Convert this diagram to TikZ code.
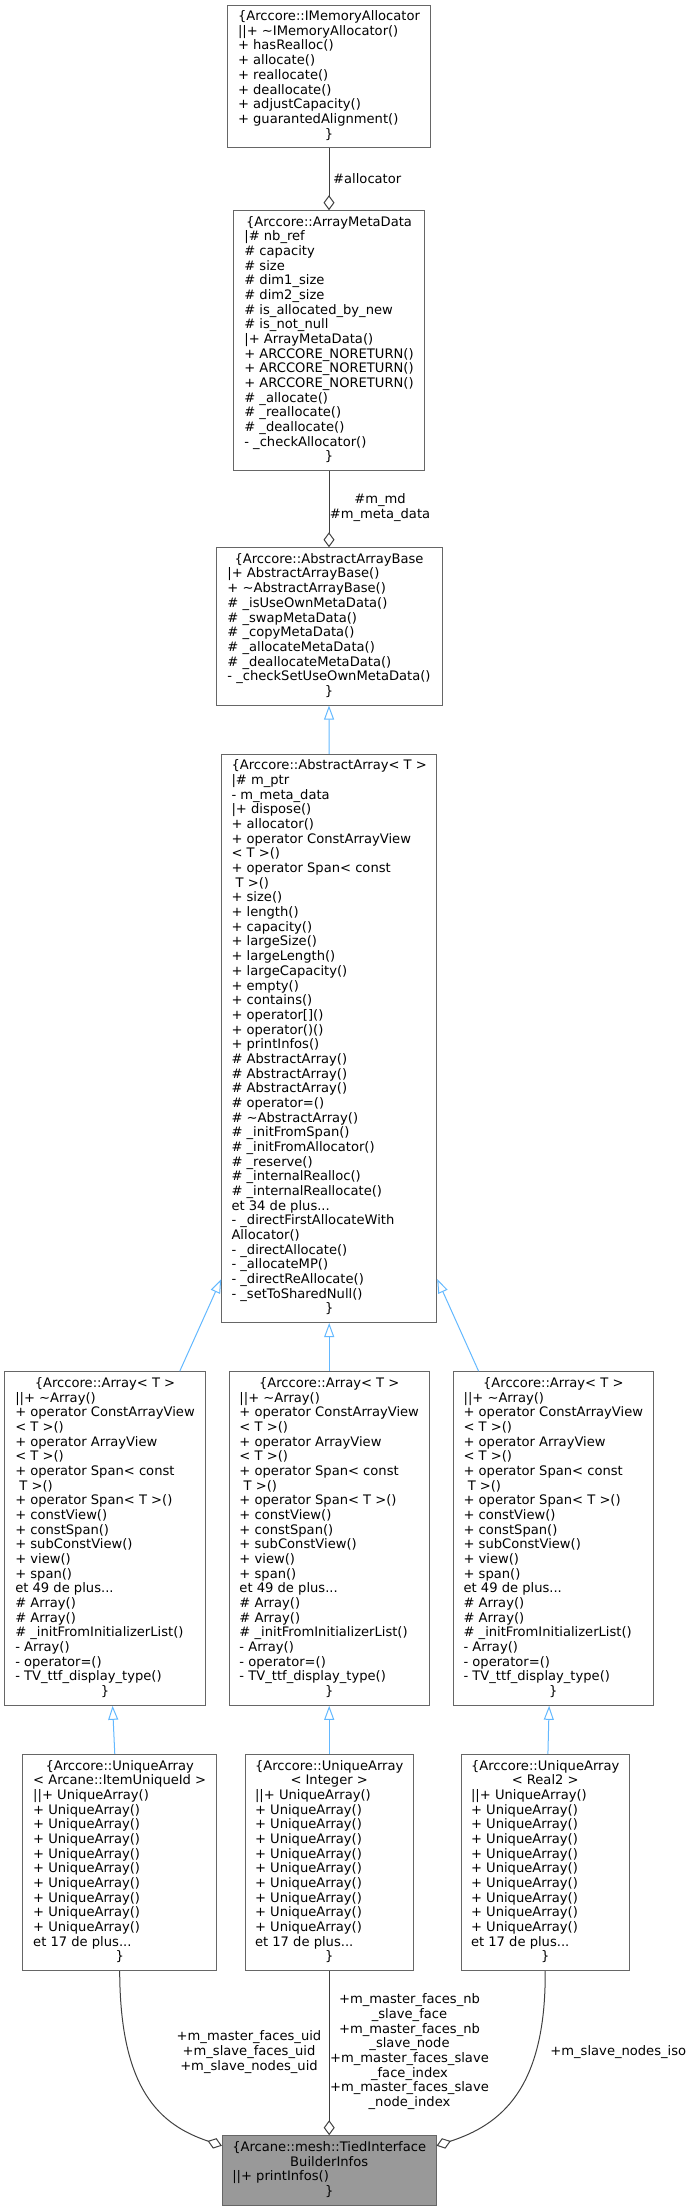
\documentclass[tikz,border=0pt]{standalone}
\usepackage{fontspec}
\setmainfont{DejaVu Sans}
\usetikzlibrary{arrows.meta}
\newcommand{\ctr}[1]{\multicolumn{1}{@{}c@{}}{#1}}

\begin{document}
\begin{tikzpicture}[x=1pt, y=-1pt, font=\fontsize{13.1}{14.67}\selectfont,
  cls/.style={draw=boxgray, line width=1pt, fill=white, inner sep=2pt},
  aggr/.style={draw=edgegray, line width=1pt, -{Diamond[open, length=15pt, width=11pt]}},
  inh/.style={draw=inhblue, line width=1pt, -{Triangle[open, length=14pt, width=10pt]}},
  lbl/.style={inner sep=0pt, align=center}]
\definecolor{boxgray}{HTML}{666666}
\definecolor{edgegray}{HTML}{404040}
\definecolor{inhblue}{HTML}{63B8FF}
\definecolor{maingray}{HTML}{999999}
\useasboundingbox (0,0) rectangle (693,2211);
% allocator and meta data
\node[cls, minimum width=203.4pt, minimum height=142.7pt] (imem) at (329,76.4) {\begin{tabular}{@{}l@{}}
\ctr{\{Arccore::IMemoryAllocator}\\
||+ \textasciitilde IMemoryAllocator()\\
+ hasRealloc()\\
+ allocate()\\
+ reallocate()\\
+ deallocate()\\
+ adjustCapacity()\\
+ guarantedAlignment()\\
\ctr{\}}
\end{tabular}};
\node[cls, minimum width=191pt, minimum height=260pt] (meta) at (329,340.7) {\begin{tabular}{@{}l@{}}
\ctr{\{Arccore::ArrayMetaData}\\
|\# nb\_ref\\
\# capacity\\
\# size\\
\# dim1\_size\\
\# dim2\_size\\
\# is\_allocated\_by\_new\\
\# is\_not\_null\\
|+ ArrayMetaData()\\
+ ARCCORE\_NORETURN()\\
+ ARCCORE\_NORETURN()\\
+ ARCCORE\_NORETURN()\\
\# \_allocate()\\
\# \_reallocate()\\
\# \_deallocate()\\
- \_checkAllocator()\\
\ctr{\}}
\end{tabular}};
\node[cls, minimum width=226pt, minimum height=157.3pt] (absbase) at (329,626.4) {\begin{tabular}{@{}l@{}}
\ctr{\{Arccore::AbstractArrayBase}\\
|+ AbstractArrayBase()\\
+ \textasciitilde AbstractArrayBase()\\
\# \_isUseOwnMetaData()\\
\# \_swapMetaData()\\
\# \_copyMetaData()\\
\# \_allocateMetaData()\\
\# \_deallocateMetaData()\\
- \_checkSetUseOwnMetaData()\\
\ctr{\}}
\end{tabular}};
\node[cls, minimum width=215pt, minimum height=568.2pt] (absarr) at (329.2,1038.4) {\begin{tabular}{@{}l@{}}
\ctr{\{Arccore::AbstractArray< T >}\\
|\# m\_ptr\\
- m\_meta\_data\\
|+ dispose()\\
+ allocator()\\
+ operator ConstArrayView\\
< T >()\\
+ operator Span< const\\
\ T >()\\
+ size()\\
+ length()\\
+ capacity()\\
+ largeSize()\\
+ largeLength()\\
+ largeCapacity()\\
+ empty()\\
+ contains()\\
+ operator[]()\\
+ operator()()\\
+ printInfos()\\
\# AbstractArray()\\
\# AbstractArray()\\
\# AbstractArray()\\
\# operator=()\\
\# \textasciitilde AbstractArray()\\
\# \_initFromSpan()\\
\# \_initFromAllocator()\\
\# \_reserve()\\
\# \_internalRealloc()\\
\# \_internalReallocate()\\
et 34 de plus...\\
- \_directFirstAllocateWith\\
Allocator()\\
- \_directAllocate()\\
- \_allocateMP()\\
- \_directReAllocate()\\
- \_setToSharedNull()\\
\ctr{\}}
\end{tabular}};
% the three Array< T >
\foreach \nm/\cx in {arrL/105, arrM/329.2, arrR/553.3}{
\node[cls, minimum width=200.4pt, minimum height=333.6pt] (\nm) at (\cx,1538.5) {\begin{tabular}{@{}l@{}}
\ctr{\{Arccore::Array< T >}\\
||+ \textasciitilde Array()\\
+ operator ConstArrayView\\
< T >()\\
+ operator ArrayView\\
< T >()\\
+ operator Span< const\\
\ T >()\\
+ operator Span< T >()\\
+ constView()\\
+ constSpan()\\
+ subConstView()\\
+ view()\\
+ span()\\
et 49 de plus...\\
\# Array()\\
\# Array()\\
\# \_initFromInitializerList()\\
- Array()\\
- operator=()\\
- TV\_ttf\_display\_type()\\
\ctr{\}}
\end{tabular}};
}
% the three UniqueArray
\foreach \nm/\cx/\bw/\hdr in {uaL/119.7/194/{< Arcane::ItemUniqueId >}, uaM/329.2/168.3/{< Integer >}, uaR/545.2/168.3/{< Real2 >}}{
\node[cls, minimum width=\bw pt, minimum height=216.4pt] (\nm) at (\cx,1862.5) {\begin{tabular}{@{}l@{}}
\ctr{\{Arccore::UniqueArray}\\
\ctr{\hdr}\\
||+ UniqueArray()\\
+ UniqueArray()\\
+ UniqueArray()\\
+ UniqueArray()\\
+ UniqueArray()\\
+ UniqueArray()\\
+ UniqueArray()\\
+ UniqueArray()\\
+ UniqueArray()\\
+ UniqueArray()\\
et 17 de plus...\\
\ctr{\}}
\end{tabular}};
}
\node[cls, fill=maingray, minimum width=213.7pt, minimum height=69.6pt] (tied) at (329.2,2170.5) {\begin{tabular}{@{}l@{}}
\ctr{\{Arcane::mesh::TiedInterface}\\
\ctr{BuilderInfos}\\
||+ printInfos()\\
\ctr{\}}
\end{tabular}};
% connectors
\draw[aggr] (imem.south) -- (meta.north);
\draw[aggr] (meta.south) -- (absbase.north);
\draw[inh] (absarr.north) -- (absbase.south);
\draw[inh] (arrL) -- (absarr);
\draw[inh] (arrM.north) -- (absarr.south);
\draw[inh] (arrR) -- (absarr);
\draw[inh] (uaL) -- (arrL);
\draw[inh] (uaM.north) -- (arrM.south);
\draw[inh] (uaR) -- (arrR);
\draw[aggr] (uaL.south) .. controls (120,2090) and (160,2125) .. (tied.167);
\draw[aggr] (uaM.south) -- (tied.north);
\draw[aggr] (uaR.south) .. controls (546,2090) and (500,2125) .. (tied.13);
% edge labels
\node[lbl, anchor=west] (lalloc) at (333,178.7) {\#allocator};
\node[lbl] (lmd) at (380,507.5) {\#m\_md\\\#m\_meta\_data};
\node[lbl] (luid) at (249,2052) {+m\_master\_faces\_uid\\+m\_slave\_faces\_uid\\+m\_slave\_nodes\_uid};
\node[lbl] (lidx) at (409.5,2051.7) {+m\_master\_faces\_nb\\\_slave\_face\\+m\_master\_faces\_nb\\\_slave\_node\\+m\_master\_faces\_slave\\\_face\_index\\+m\_master\_faces\_slave\\\_node\_index};
\node[lbl] (liso) at (618.3,2052) {+m\_slave\_nodes\_iso};
\end{tikzpicture}
\end{document}
